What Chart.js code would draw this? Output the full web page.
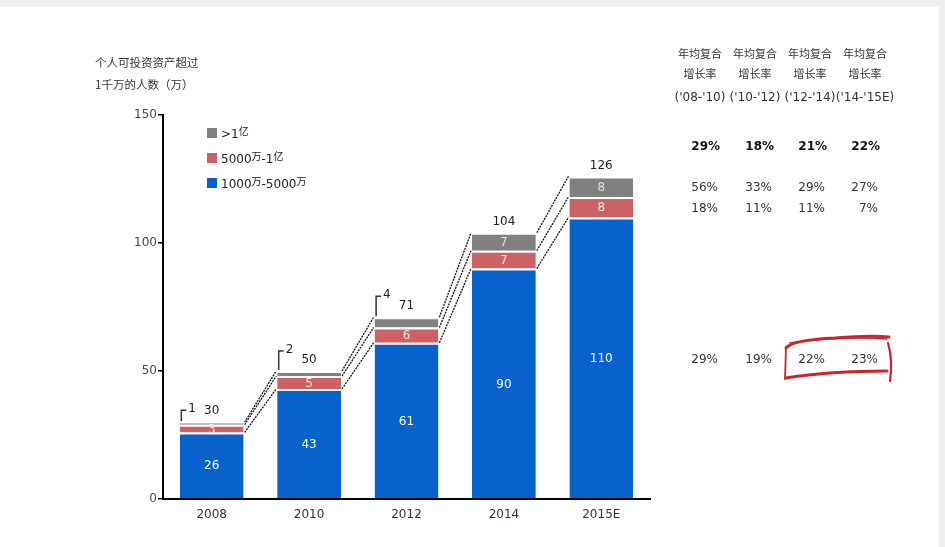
<!DOCTYPE html>
<html>
<head>
<meta charset="utf-8">
<script src="https://cdn.jsdelivr.net/npm/chart.js@4/dist/chart.umd.min.js"></script>
<style>
html,body{margin:0;padding:0;background:#fff;}
#wrap{width:945px;height:547px;position:relative;}
</style>
</head>
<body>
<div id="wrap"><canvas id="c" width="945" height="547"></canvas></div>
<script>
// ---- data ----
const categories = ['2008', '2010', '2012', '2014', '2015E'];
const seriesNames = ['1000万-5000万', '5000万-1亿', '>1亿'];
const blueVals = [26, 43, 61, 90, 110];
const redVals = [3, 5, 6, 7, 8];
const grayVals = [1, 2, 4, 7, 8];
const totals = [30, 50, 71, 104, 126];
const yTicks = [0, 50, 100, 150];
const titleLines = ['个人可投资资产超过', '1千万的人数（万）'];
const tableHead1 = ['年均复合', '年均复合', '年均复合', '年均复合'];
const tableHead2 = ['增长率', '增长率', '增长率', '增长率'];
const periods = ["('08-'10)", "('10-'12)", "('12-'14)", "('14-'15E)"];
const cagrTotal = ['29%', '18%', '21%', '22%'];
const cagrTop = ['56%', '33%', '29%', '27%'];
const cagrMid = ['18%', '11%', '11%', '7%'];
const cagrBase = ['29%', '19%', '22%', '23%'];

// ---- styles ----
const BLUE = '#0762cb', RED = '#cd6264', GRAY = '#808080';
const FONT = '"DejaVu Sans", Verdana, sans-serif';
const CJK = '"Noto Sans CJK SC", "DejaVu Sans", sans-serif';

function mixedText(ctx, str, x, y, color) {
  let cx = x;
  ctx.fillStyle = color;
  ctx.textAlign = 'left';
  ctx.textBaseline = 'middle';
  for (const ch of str) {
    if (/[\u4e00-\u9fff]/.test(ch)) {
      ctx.font = '10px ' + CJK;
      ctx.fillText(ch, cx, y - 4);
      cx += ctx.measureText(ch).width;
    } else {
      ctx.font = '12px ' + FONT;
      ctx.fillText(ch, cx, y);
      cx += ctx.measureText(ch).width;
    }
  }
}

const deco = {
  id: 'deco',
  beforeDraw(chart) {
    const ctx = chart.ctx;
    ctx.save();
    ctx.fillStyle = '#ffffff';
    ctx.fillRect(0, 0, 945, 547);
    ctx.fillStyle = '#efefef';
    ctx.fillRect(0, 0, 945, 7);
    ctx.fillRect(939, 0, 6, 547);
    ctx.restore();
  },
  afterDatasetsDraw(chart) {
    const ctx = chart.ctx;
    const m0 = chart.getDatasetMeta(0).data;
    const m1 = chart.getDatasetMeta(1).data;
    const m2 = chart.getDatasetMeta(2).data;
    ctx.save();
    // connectors
    ctx.strokeStyle = '#111';
    ctx.lineWidth = 1.3;
    ctx.setLineDash([2, 1]);
    for (let i = 0; i < m0.length - 1; i++) {
      for (const m of [m0, m1, m2]) {
        const a = m[i], b = m[i + 1];
        ctx.beginPath();
        ctx.moveTo(a.x + a.width / 2 + 1, a.y);
        ctx.lineTo(b.x - b.width / 2 - 1, b.y);
        ctx.stroke();
      }
    }
    ctx.setLineDash([]);
    ctx.textAlign = 'center';
    ctx.textBaseline = 'middle';
    ctx.font = '12px ' + FONT;
    m0.forEach((el, i) => {
      ctx.fillStyle = '#ffffff';
      ctx.fillText(String(blueVals[i]), el.x, (el.y + el.base) / 2 + 1);
    });
    m1.forEach((el, i) => {
      ctx.fillStyle = '#f7e2e2';
      ctx.fillText(String(redVals[i]), el.x, (el.y + el.base) / 2 + 1);
    });
    const rise = [12, 20, 21];
    m2.forEach((el, i) => {
      const h = el.base - el.y;
      if (h >= 14) {
        ctx.fillStyle = '#e2e2e2';
        ctx.textAlign = 'center';
        ctx.fillText(String(grayVals[i]), el.x, (el.y + el.base) / 2 + 1);
      } else {
        const x0 = el.x - el.width / 2 + 1.5;
        const r = rise[i] || 20;
        ctx.strokeStyle = '#333';
        ctx.lineWidth = 1.5;
        ctx.beginPath();
        ctx.moveTo(x0, el.y - 1);
        ctx.lineTo(x0, el.y - r);
        ctx.lineTo(x0 + 5, el.y - r);
        ctx.stroke();
        ctx.fillStyle = '#222';
        ctx.textAlign = 'left';
        ctx.fillText(String(grayVals[i]), x0 + 7, el.y - r - 1);
      }
    });
    ctx.textAlign = 'center';
    ctx.fillStyle = '#222';
    m2.forEach((el, i) => {
      ctx.fillText(String(totals[i]), el.x, el.y - 11);
    });

    // title
    ctx.font = '11.5px ' + CJK;
    ctx.fillStyle = '#333';
    ctx.textAlign = 'left';
    ctx.fillText(titleLines[0], 95, 63);
    ctx.fillText(titleLines[1], 95, 85);

    // legend
    const legColors = [GRAY, RED, BLUE];
    const legNames = [seriesNames[2], seriesNames[1], seriesNames[0]];
    const legY = [133, 158, 183];
    legNames.forEach((n, k) => {
      ctx.fillStyle = legColors[k];
      ctx.fillRect(207, legY[k] - 5, 10, 10);
      mixedText(ctx, n, 221, legY[k] + 2, '#222');
    });

    // table
    const hc = [700, 755, 810, 865];
    const rc = [718, 772, 825, 878];
    ctx.textAlign = 'center';
    ctx.fillStyle = '#333';
    ctx.font = '11px ' + CJK;
    hc.forEach((x, k) => {
      ctx.fillText(tableHead1[k], x, 54);
      ctx.fillText(tableHead2[k], x, 74);
    });
    ctx.font = '12px ' + FONT;
    hc.forEach((x, k) => ctx.fillText(periods[k], x, 98));
    ctx.textAlign = 'right';
    ctx.font = 'bold 12px ' + FONT;
    ctx.fillStyle = '#111';
    rc.forEach((x, k) => ctx.fillText(cagrTotal[k], x + 2, 147));
    ctx.font = '12px ' + FONT;
    ctx.fillStyle = '#333';
    rc.forEach((x, k) => ctx.fillText(cagrTop[k], x, 188));
    rc.forEach((x, k) => ctx.fillText(cagrMid[k], x, 209));
    rc.forEach((x, k) => ctx.fillText(cagrBase[k], x, 360));

    // hand drawn highlight
    ctx.strokeStyle = '#c9252c';
    ctx.lineCap = 'round';
    ctx.lineWidth = 3;
    ctx.beginPath();
    ctx.moveTo(786, 348);
    ctx.quadraticCurveTo(792, 340, 835, 338);
    ctx.quadraticCurveTo(872, 335, 889, 337);
    ctx.stroke();
    ctx.lineWidth = 1.5;
    ctx.beginPath();
    ctx.moveTo(790, 343);
    ctx.quadraticCurveTo(840, 336, 887, 339);
    ctx.stroke();
    ctx.lineWidth = 2.2;
    ctx.beginPath();
    ctx.moveTo(888, 343);
    ctx.quadraticCurveTo(893, 360, 890, 381);
    ctx.stroke();
    ctx.lineWidth = 3;
    ctx.beginPath();
    ctx.moveTo(786, 378);
    ctx.quadraticCurveTo(830, 371, 887, 371);
    ctx.stroke();
    ctx.lineWidth = 1.8;
    ctx.beginPath();
    ctx.moveTo(786, 347);
    ctx.lineTo(785, 379);
    ctx.stroke();
    ctx.restore();
  }
};

new Chart(document.getElementById('c'), {
  type: 'bar',
  data: {
    labels: categories,
    datasets: [
      { label: seriesNames[0], data: blueVals, backgroundColor: BLUE, borderColor: '#ffffff', borderWidth: { top: 2, left: 0, right: 0, bottom: 0 }, borderSkipped: false },
      { label: seriesNames[1], data: redVals, backgroundColor: RED, borderColor: '#ffffff', borderWidth: { top: 2, left: 0, right: 0, bottom: 0 }, borderSkipped: false },
      { label: seriesNames[2], data: grayVals, backgroundColor: GRAY, borderColor: '#ffffff', borderWidth: { top: 2, left: 0, right: 0, bottom: 0 }, borderSkipped: false }
    ]
  },
  options: {
    responsive: false,
    animation: false,
    events: [],
    layout: { padding: { left: 0, right: 295, top: 115, bottom: 0 } },
    datasets: { bar: { categoryPercentage: 1, barPercentage: 0.655 } },
    plugins: { legend: { display: false }, tooltip: { enabled: false } },
    scales: {
      x: {
        stacked: true,
        grid: { display: false },
        border: { display: true, color: '#000', width: 2 },
        ticks: { color: '#333', font: { family: FONT, size: 12 }, padding: 1 },
        afterFit: s => { s.height = 48; }
      },
      y: {
        stacked: true,
        min: 0,
        max: 150,
        afterBuildTicks: s => { s.ticks = yTicks.map(v => ({ value: v })); },
        grid: { drawOnChartArea: false, drawTicks: true, tickLength: 5, color: '#000', lineWidth: 1.5 },
        border: { display: true, color: '#000', width: 2 },
        ticks: { color: '#444', font: { family: FONT, size: 12 }, padding: 1 },
        afterFit: s => { s.width = 163; }
      }
    }
  },
  plugins: [deco]
});
</script>
</body>
</html>
